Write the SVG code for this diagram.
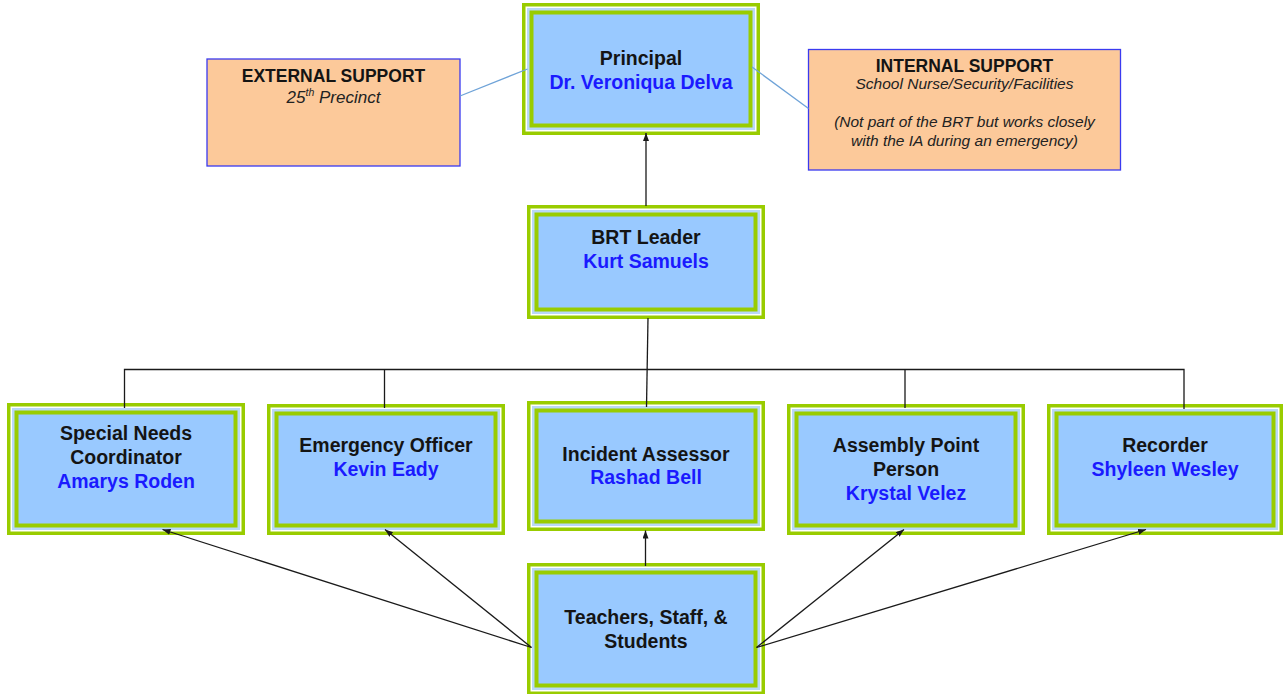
<svg xmlns="http://www.w3.org/2000/svg" width="1283" height="694" viewBox="0 0 1283 694">
  <defs>
    <style>
      .o { fill: #ffffff; stroke: #99cc00; stroke-width: 3.5; }
      .b { fill: #b9d8f8; }
      .i { fill: #99c9ff; stroke: #99cc00; stroke-width: 4; }
      .sup { fill: #fcc99a; stroke: #3a3af0; stroke-width: 1.3; }
      text { font-family: "Liberation Sans", Arial, sans-serif; text-anchor: middle; }
      .t { font-size: 19.5px; font-weight: bold; fill: #141414; }
      .n { font-size: 19.5px; font-weight: bold; fill: #1a1aff; }
      .st { font-size: 17.5px; font-weight: bold; fill: #141414; }
      .si { font-size: 15.5px; font-style: italic; fill: #222222; }
      .arr { stroke: #1a1a1a; stroke-width: 1.3; fill: none; }
      .link { stroke: #6fa3d8; stroke-width: 1.3; fill: none; }
    </style>
    <marker id="ah" markerUnits="userSpaceOnUse" markerWidth="9" markerHeight="7" refX="8" refY="3" orient="auto">
      <path d="M0,0 L8,3 L0,6 z" fill="#1a1a1a"/>
    </marker>
  </defs>

  <!-- support boxes -->
  <g id="external-support">
    <rect class="sup" x="207" y="59" width="253" height="107"/>
    <text class="st" x="333.5" y="81.7">EXTERNAL SUPPORT</text>
    <text class="si" x="333.5" y="103.3" style="font-size:17px">25<tspan font-size="10.5" dy="-7">th</tspan><tspan dy="7"> Precinct</tspan></text>
  </g>
  <g id="internal-support">
    <rect class="sup" x="808.5" y="49.5" width="312" height="120.5"/>
    <text class="st" x="964.5" y="71.7">INTERNAL SUPPORT</text>
    <text class="si" x="964.5" y="89.3">School Nurse/Security/Facilities</text>
    <text class="si" x="964.5" y="126.7">(Not part of the BRT but works closely</text>
    <text class="si" x="964.5" y="145.5">with the IA during an emergency)</text>
  </g>

  <!-- principal -->
  <g id="principal">
    <rect class="o" x="523.75" y="4.75" width="234.5" height="128.5"/>
    <rect class="b" x="527" y="8" width="228" height="122"/>
    <rect class="i" x="531.5" y="12.5" width="219" height="113"/>
    <text class="t" x="641" y="64.5">Principal</text>
    <text class="n" x="641" y="88.5">Dr. Veroniqua Delva</text>
  </g>

  <!-- BRT leader -->
  <g id="brt-leader">
    <rect class="o" x="528.75" y="206.75" width="234.5" height="110.5"/>
    <rect class="b" x="532" y="210" width="228" height="104"/>
    <rect class="i" x="536.5" y="214.5" width="219" height="95"/>
    <text class="t" x="646" y="244.3">BRT Leader</text>
    <text class="n" x="646" y="268.3">Kurt Samuels</text>
  </g>

  <!-- team roles -->
  <g id="special-needs">
    <rect class="o" x="8.75" y="404.75" width="234.5" height="128.5"/>
    <rect class="b" x="12" y="408" width="228" height="122"/>
    <rect class="i" x="16.5" y="412.5" width="219" height="113"/>
    <text class="t" x="126" y="440.3">Special Needs</text>
    <text class="t" x="126" y="464">Coordinator</text>
    <text class="n" x="126" y="487.7">Amarys Roden</text>
  </g>

  <g id="emergency-officer">
    <rect class="o" x="268.75" y="405.75" width="234.5" height="127.5"/>
    <rect class="b" x="272" y="409" width="228" height="121"/>
    <rect class="i" x="276.5" y="413.5" width="219" height="112"/>
    <text class="t" x="386" y="452.3">Emergency Officer</text>
    <text class="n" x="386" y="476">Kevin Eady</text>
  </g>

  <g id="incident-assessor">
    <rect class="o" x="528.75" y="402.75" width="234.5" height="126.5"/>
    <rect class="b" x="532" y="406" width="228" height="120"/>
    <rect class="i" x="536.5" y="410.5" width="219" height="111"/>
    <text class="t" x="646" y="460.7">Incident Assessor</text>
    <text class="n" x="646" y="484">Rashad Bell</text>
  </g>

  <g id="assembly-point">
    <rect class="o" x="788.75" y="405.75" width="234.5" height="127.5"/>
    <rect class="b" x="792" y="409" width="228" height="121"/>
    <rect class="i" x="796.5" y="413.5" width="219" height="112"/>
    <text class="t" x="906" y="452.3">Assembly Point</text>
    <text class="t" x="906" y="475.7">Person</text>
    <text class="n" x="906" y="500">Krystal Velez</text>
  </g>

  <g id="recorder">
    <rect class="o" x="1048.75" y="405.75" width="232.5" height="127.5"/>
    <rect class="b" x="1052" y="409" width="226" height="121"/>
    <rect class="i" x="1056.5" y="413.5" width="217" height="112"/>
    <text class="t" x="1165" y="452.3">Recorder</text>
    <text class="n" x="1165" y="476">Shyleen Wesley</text>
  </g>

  <g id="teachers-staff-students">
    <rect class="o" x="528.75" y="564.75" width="234.5" height="128.5"/>
    <rect class="b" x="532" y="568" width="228" height="122"/>
    <rect class="i" x="536.5" y="572.5" width="219" height="113"/>
    <text class="t" x="646" y="624.3">Teachers, Staff, &amp;</text>
    <text class="t" x="646" y="647.7">Students</text>
  </g>

  <!-- connectors, drawn last so the arrowheads sit on the box edges -->
  <g id="connectors">
    <line class="link" x1="460" y1="96" x2="527.5" y2="69"/>
    <line class="link" x1="752" y1="67" x2="808.5" y2="108.5"/>
    <line class="arr" x1="646" y1="206" x2="646" y2="133" marker-end="url(#ah)"/>
    <line class="arr" x1="648" y1="318" x2="646.5" y2="407"/>
    <polyline class="arr" points="124.5,408 124.5,369.5 1184,369.5 1184,409"/>
    <line class="arr" x1="384.5" y1="369.5" x2="384.5" y2="408"/>
    <line class="arr" x1="905" y1="369.5" x2="905" y2="408"/>
    <line class="arr" x1="645.5" y1="566" x2="645.5" y2="530.5" marker-end="url(#ah)"/>
    <line class="arr" x1="531.5" y1="647.5" x2="162.5" y2="529.5" marker-end="url(#ah)"/>
    <line class="arr" x1="531.5" y1="647.5" x2="385" y2="529.5" marker-end="url(#ah)"/>
    <line class="arr" x1="756.5" y1="647.5" x2="904" y2="529.5" marker-end="url(#ah)"/>
    <line class="arr" x1="756.5" y1="647.5" x2="1146" y2="529.5" marker-end="url(#ah)"/>
  </g>
</svg>
